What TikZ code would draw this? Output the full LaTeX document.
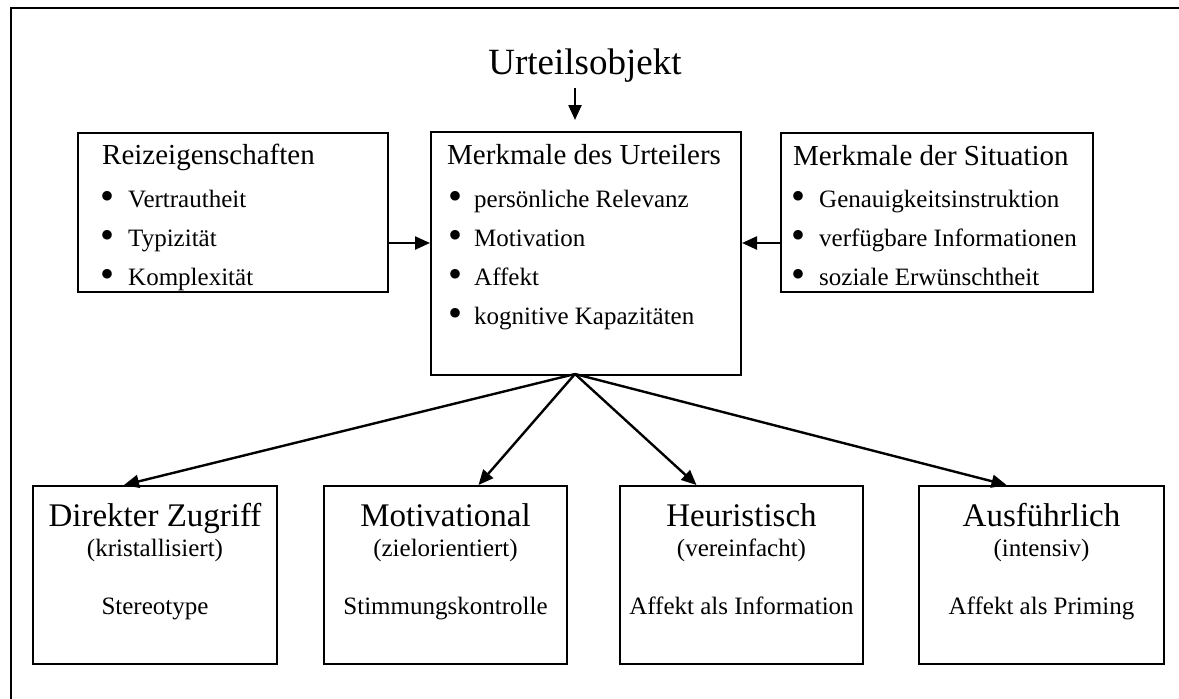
\documentclass[tikz,border=0pt]{standalone}
\usepackage{fontspec}
\setmainfont{Liberation Serif}
\usetikzlibrary{arrows.meta}
\begin{document}
\begin{tikzpicture}[x=1pt,y=-1pt,
  box/.style={draw,line width=2pt,inner sep=0pt,anchor=north west},
  arr/.style={line width=2.4pt,-{Triangle[length=15pt,width=13pt]}},
  frame/.style={line width=2.2pt},
  hd/.style={anchor=base west,inner sep=0pt,font=\fontsize{29}{34}\selectfont},
  it/.style={anchor=base west,inner sep=0pt,font=\fontsize{25}{30}\selectfont},
  bul/.style={anchor=base,inner sep=0pt,yshift=-2pt,font=\fontsize{40}{40}\selectfont},
  bt/.style={anchor=base,inner sep=0pt,font=\fontsize{33}{38}\selectfont},
  bs/.style={anchor=base,inner sep=0pt,font=\fontsize{25}{30}\selectfont},
]
\useasboundingbox (0,0) rectangle (1179,699);

% outer frame (top and left edges)
\coordinate (fl) at (11,8);
\coordinate (fr) at (1179,8);
\coordinate (fb) at (11,699);
\draw[frame] (fr) -- (fl) -- (fb);

% title
\node[anchor=base,inner sep=0pt,font=\fontsize{37}{42}\selectfont] (obj) at (585,74) {Urteilsobjekt};

% upper row of boxes
\node[box,minimum width=310pt,minimum height=159pt] (b1) at (77,132) {};
\node[box,minimum width=310pt,minimum height=243pt] (b2) at (430,131) {};
\node[box,minimum width=312pt,minimum height=159pt] (b3) at (780,132) {};

% Reizeigenschaften
\node[hd] (t1) at (102,164) {Reizeigenschaften};
\foreach \y/\t [count=\i] in {207/Vertrautheit,246/Typizität,285/Komplexität}{
  \node[bul] (p1\i) at (108,\y) {•};
  \node[it] (i1\i) at (128,\y) {\t};
}

% Merkmale des Urteilers
\node[hd] (t2) at (447,164) {Merkmale des Urteilers};
\foreach \y/\t [count=\i] in {207/persönliche Relevanz,246/Motivation,285/Affekt,324/kognitive Kapazitäten}{
  \node[bul] (p2\i) at (455,\y) {•};
  \node[it] (i2\i) at (474,\y) {\t};
}

% Merkmale der Situation
\node[hd] (t3) at (793,165) {Merkmale der Situation};
\foreach \y/\t [count=\i] in {207/Genauigkeitsinstruktion,246/verfügbare Informationen,285/soziale Erwünschtheit}{
  \node[bul] (p3\i) at (798,\y) {•};
  \node[it] (i3\i) at (819,\y) {\t};
}

% lower row of boxes
\node[box,minimum width=244pt,minimum height=178pt] (b4) at (32,485) {};
\node[box,minimum width=243pt,minimum height=178pt] (b5) at (323,485) {};
\node[box,minimum width=243pt,minimum height=178pt] (b6) at (619,485) {};
\node[box,minimum width=245pt,minimum height=178pt] (b7) at (918,485) {};

\foreach \b/\h/\s/\e in {b4/Direkter Zugriff/kristallisiert/Stereotype,
                         b5/Motivational/zielorientiert/Stimmungskontrolle,
                         b6/Heuristisch/vereinfacht/Affekt als Information,
                         b7/Ausführlich/intensiv/Affekt als Priming}{
  \path (\b.north) ++(0,41) node[bt] (\b h) {\h};
  \path (\b.north) ++(0,71) node[bs] (\b s) {(\s)};
  \path (\b.north) ++(0,129) node[bs] (\b e) {\e};
}

% connectors
\coordinate (objfoot) at (575,88);
\coordinate (objtip) at (575,120);
\draw[arr] (objfoot) -- (objtip);

\coordinate (ay) at (0,243);
\draw[arr] (b1.east |- ay) -- (b2.west |- ay);
\draw[arr] (b3.west |- ay) -- (b2.east |- ay);

\coordinate (fan) at (575,374);
\draw[arr] (fan) -- ([xshift=-31pt]b4.north);
\draw[arr] (fan) -- ([xshift=33pt]b5.north);
\draw[arr] (fan) -- ([xshift=-45pt]b6.north);
\draw[arr] (fan) -- ([xshift=-35pt]b7.north);
\end{tikzpicture}
\end{document}
